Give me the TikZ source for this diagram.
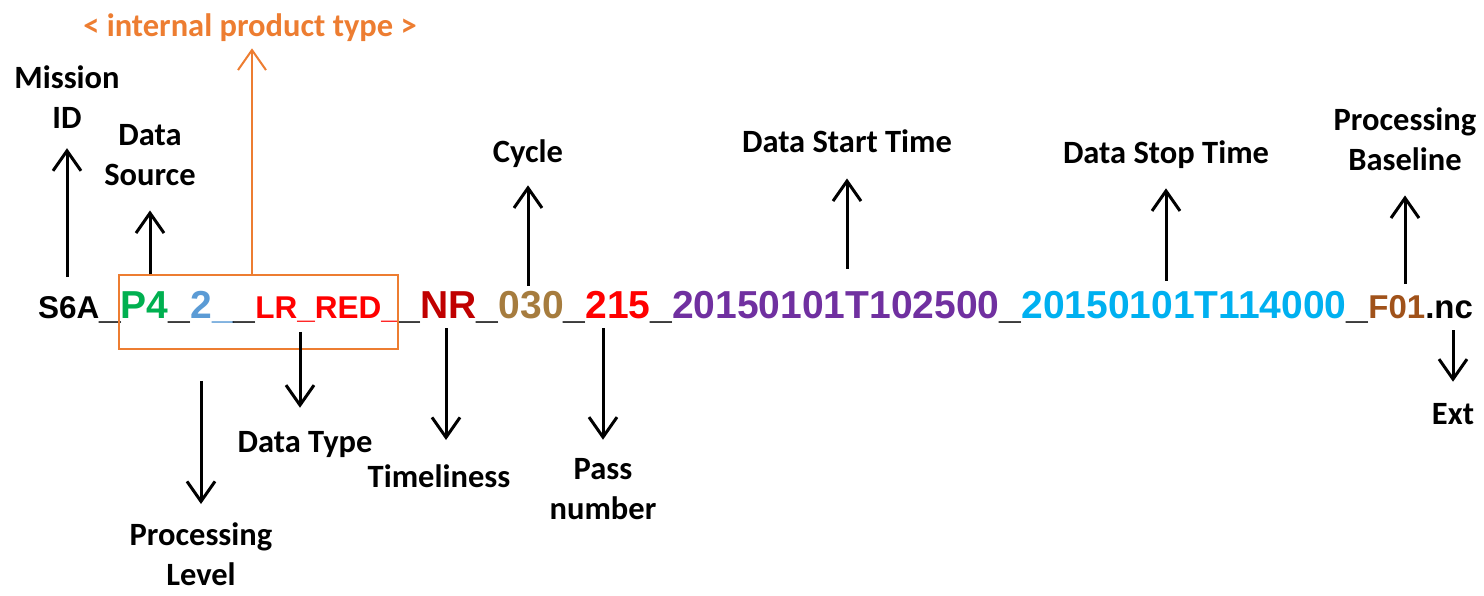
\documentclass[tikz,border=0pt]{standalone}
\usepackage{fontspec}
\setmainfont{Carlito}
\newfontfamily\fnfont{Liberation Sans}
\usetikzlibrary{positioning, arrows.meta}
\definecolor{ftgreen}{HTML}{00B050}
\definecolor{ftblue}{HTML}{5B9BD5}
\definecolor{ftred}{HTML}{FF0000}
\definecolor{ftdarkred}{HTML}{C00000}
\definecolor{ftbrown}{HTML}{A67C3E}
\definecolor{ftrust}{HTML}{A0521A}
\definecolor{ftpurple}{HTML}{7030A0}
\definecolor{ftcyan}{HTML}{00B0F0}
\definecolor{ftorange}{HTML}{ED7D31}

\begin{document}
\begin{tikzpicture}[x=1pt, y=-1pt,
    font=\fontsize{32.5}{40}\selectfont\bfseries,
    seg/.style={inner sep=0pt, outer sep=0pt, anchor=base west,
      font=\fnfont\bfseries\fontsize{39}{39}\selectfont},
    segsm/.style={seg, font=\fnfont\bfseries\fontsize{31.5}{31.5}\selectfont},
    segmd/.style={seg, font=\fnfont\bfseries\fontsize{33}{33}\selectfont},
    lab/.style={align=center, inner sep=0pt, anchor=base},
    arr/.style={-{Straight Barb[length=20pt, width=28pt]}, line width=3pt}]
    \useasboundingbox (0,0) rectangle (1484,595);
    % the file name, piece by piece
    \node[segsm] (s6a) at (38,318) {S6A};
    \node[seg] (u1) at (s6a.base east) {\_};
    \node[seg, ftgreen] (p4) at (u1.base east) {P4};
    \node[seg] (u2) at (p4.base east) {\_};
    \node[seg, ftblue] (lvl) at (u2.base east) {2\_};
    \node[seg] (u3) at (lvl.base east) {\_};
    \node[segsm, ftred] (dtype) at (u3.base east) {LR\_RED\_};
    \node[seg] (u4) at (dtype.base east) {\_};
    \node[seg, ftdarkred] (nr) at (u4.base east) {NR};
    \node[seg] (u5) at (nr.base east) {\_};
    \node[seg, ftbrown] (cyc) at (u5.base east) {030};
    \node[seg] (u6) at (cyc.base east) {\_};
    \node[seg, ftred] (pass) at (u6.base east) {215};
    \node[seg] (u7) at (pass.base east) {\_};
    \node[seg, ftpurple] (tstart) at (u7.base east) {20150101T102500};
    \node[seg] (u8) at (tstart.base east) {\_};
    \node[seg, ftcyan] (tstop) at (u8.base east) {20150101T114000};
    \node[seg] (u9) at (tstop.base east) {\_};
    \node[segmd, ftrust] (pb) at (u9.base east) {F01};
    \node[segmd] (ext) at (pb.base east) {.nc};
    \node[draw=ftorange, line width=1.5pt, inner sep=0pt,
      minimum width=279pt, minimum height=74pt] (ipt) at (258.5,312) {};
    % labels
    \node[lab] (mission) at (67,128) {Mission\\ID};
    \node[lab] (dsrc) at (150,185) {Data\\Source};
    \node[lab, ftorange] (iptl) at (250,36) {< internal product type >};
    \node[lab] (cycle) at (528,162) {Cycle};
    \node[lab] (dstart) at (847,152) {Data Start Time};
    \node[lab] (dstop) at (1166,163) {Data Stop Time};
    \node[lab] (pbl) at (1405,170) {Processing\\Baseline};
    \node[lab] (plevel) at (201,585) {Processing\\Level};
    \node[lab] (dtl) at (305,452) {Data Type};
    \node[lab] (timel) at (439,487) {Timeliness};
    \node[lab] (passn) at (603,519) {Pass\\number};
    \node[lab] (extl) at (1453,424) {Ext};
    % arrows up
    \draw[arr, shorten <=19pt, shorten >=20pt] (s6a.north -| mission.south) -- (mission.south);
    \draw[arr, shorten >=25pt] (ipt.north -| dsrc.south) -- (dsrc.south);
    \draw[arr, ftorange, line width=2pt, shorten >=7pt] (ipt.north -| iptl.south) ++(2,0) -- ([xshift=2pt]iptl.south);
    \draw[arr, shorten <=5pt, shorten >=18pt] (cyc.north -| cycle.south) -- (cycle.south);
    \draw[arr, shorten <=22pt, shorten >=26pt] (tstart.north -| dstart.south) -- (dstart.south);
    \draw[arr, shorten <=10pt, shorten >=20pt] (tstop.north -| dstop.south) -- (dstop.south);
    \draw[arr, shorten <=11pt, shorten >=25pt] (pb.north -| pbl.south) -- (pbl.south);
    % arrows down
    \draw[arr, shorten <=31pt, shorten >=18pt] (ipt.south -| plevel.north) -- (plevel.north);
    \draw[arr, shorten <=10pt, shorten >=23pt] (dtype.south -| dtl.north) ++(-5,0) -- ([xshift=-5pt]dtl.north);
    \draw[arr, shorten <=10pt, shorten >=24pt] (nr.south -| timel.north) ++(7,0) -- ([xshift=7pt]timel.north);
    \draw[arr, shorten <=10pt, shorten >=18pt] (pass.south -| passn.north) -- (passn.north);
    \draw[arr, shorten <=12pt, shorten >=21pt] (ext.south -| extl.north) -- (extl.north);
\end{tikzpicture}
\end{document}
